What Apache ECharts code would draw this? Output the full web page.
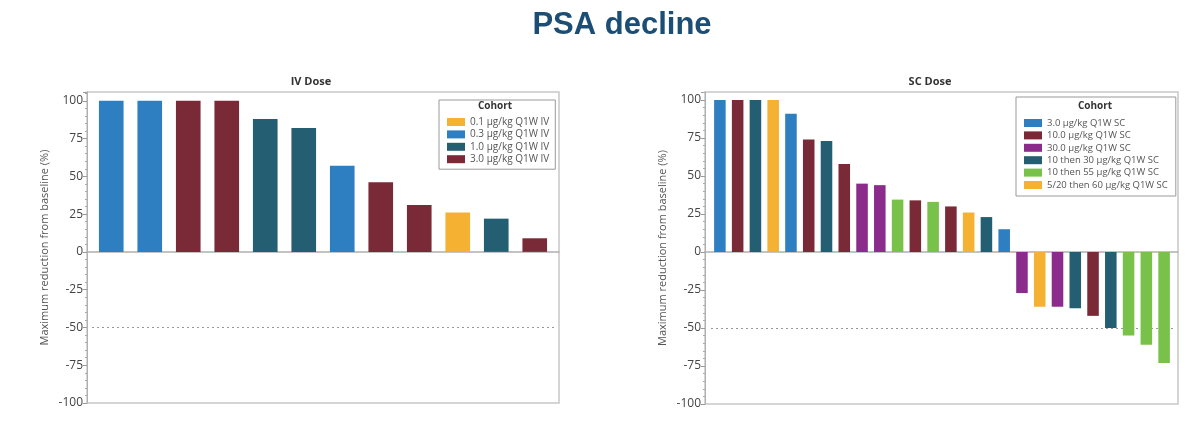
<!DOCTYPE html>
<html>
<head>
<meta charset="utf-8">
<script src="https://cdn.jsdelivr.net/npm/echarts@6/dist/echarts.min.js"></script>
<style>html,body{margin:0;padding:0;background:#fff;}#c{width:1200px;height:426px;}</style>
</head>
<body>
<div id="c"></div>
<script>
// ---- data ----
const ivCohortNames = ['0.1 μg/kg Q1W IV', '0.3 μg/kg Q1W IV', '1.0 μg/kg Q1W IV', '3.0 μg/kg Q1W IV'];
const ivColors = ['#F4B132', '#2E7FC2', '#245E72', '#7A2A37'];
const ivValues = [100, 100, 100, 100, 88, 82, 57, 46, 31, 26, 22, 9];
const ivCohort = [1, 1, 3, 3, 2, 2, 1, 3, 3, 0, 2, 3];

const scCohortNames = ['3.0 μg/kg Q1W SC', '10.0 μg/kg Q1W SC', '30.0 μg/kg Q1W SC', '10 then 30 μg/kg Q1W SC', '10 then 55 μg/kg Q1W SC', '5/20 then 60 μg/kg Q1W SC'];
const scColors = ['#2E7FC2', '#7A2A37', '#8B2C8C', '#245E72', '#78C24A', '#F4B132'];
const scValues = [100, 100, 100, 100, 91, 74, 73, 58, 45, 44, 34.5, 34, 33, 30, 26, 23, 15, -27, -36, -36, -37, -42, -50, -55, -61, -73];
const scCohort = [0, 1, 3, 5, 0, 1, 3, 1, 2, 2, 4, 1, 4, 1, 5, 3, 0, 2, 5, 2, 3, 1, 3, 4, 4, 4];

const yTicks = [-100, -75, -50, -25, 0, 25, 50, 75, 100];
const refLine = -50;

// ---- build ----
const chart = echarts.init(document.getElementById('c'));
const FONT = 'Open Sans';

function cats(n) { return Array.from({length: n}, (_, i) => String(i + 1)); }

function buildSeries(values, cohort, names, colors, xi, yi, bw, stack) {
  const s = names.map((nm, k) => ({
    type: 'bar', name: nm, stack: stack, xAxisIndex: xi, yAxisIndex: yi, z: 3,
    barWidth: bw, itemStyle: {color: colors[k]},
    data: values.map((v, i) => cohort[i] === k ? v : null)
  }));
  s.push({
    type: 'line', name: stack + '-ref', xAxisIndex: xi, yAxisIndex: yi, z: 1, data: [],
    markLine: {
      z: 1, silent: true, symbol: 'none', label: {show: false},
      lineStyle: {type: [2, 3], color: '#999', width: 1},
      data: [{yAxis: refLine}]
    }
  });
  return s;
}

function visY(gi, max) {
  return {
    type: 'value', gridIndex: gi, min: -100, max: max, interval: 25,
    name: 'Maximum reduction from baseline (%)', nameLocation: 'middle', nameGap: 37,
    nameTextStyle: {fontFamily: FONT, fontSize: 11, color: '#555'},
    axisLine: {show: true, lineStyle: {color: '#b0b0b0', width: 1}},
    axisTick: {show: true, length: 4, lineStyle: {color: '#999'}},
    minorTick: {show: true, splitNumber: 5, length: 2, lineStyle: {color: '#aaa'}},
    axisLabel: {fontFamily: FONT, fontSize: 12, color: '#444', margin: 4, showMaxLabel: false,
      formatter: v => yTicks.indexOf(v) >= 0 ? String(v) : ''},
    splitLine: {show: false}
  };
}
function hidY(gi, max) {
  return {type: 'value', gridIndex: gi, min: -100, max: max, interval: 25, show: false, splitLine: {show: false}};
}
function frameX(gi) {
  return {type: 'value', gridIndex: gi, min: 0, max: 1,
    axisLine: {show: true, onZero: true, lineStyle: {color: '#b0b0b0', width: 1.5}},
    axisTick: {show: false}, axisLabel: {show: false}, splitLine: {show: false}};
}
function barX(gi, n) {
  return {type: 'category', gridIndex: gi, data: cats(n), show: false};
}

const option = {
  backgroundColor: '#ffffff',
  animation: false,
  title: [
    {text: 'PSA decline', left: 622, top: 10, textAlign: 'center', padding: 0,
      textStyle: {fontFamily: 'Liberation Sans', fontSize: 31, fontWeight: 'bold', color: '#1b4d75'}},
    {text: 'IV Dose', left: 311, top: 76, textAlign: 'center', padding: 0,
      textStyle: {fontFamily: FONT, fontSize: 11, fontWeight: 'bold', color: '#333'}},
    {text: 'SC Dose', left: 930, top: 76, textAlign: 'center', padding: 0,
      textStyle: {fontFamily: FONT, fontSize: 11, fontWeight: 'bold', color: '#333'}},
    {text: 'Cohort', left: 495, top: 101, textAlign: 'center', padding: 0, z: 10,
      textStyle: {fontFamily: FONT, fontSize: 10, fontWeight: 'bold', color: '#333'}},
    {text: 'Cohort', left: 1095, top: 101, textAlign: 'center', padding: 0, z: 10,
      textStyle: {fontFamily: FONT, fontSize: 10, fontWeight: 'bold', color: '#333'}}
  ],
  legend: [
    {data: ivCohortNames, orient: 'vertical', left: 439, top: 100, padding: [17, 6, 5, 8],
      itemWidth: 18, itemHeight: 8, itemGap: 2.4, selectedMode: false, icon: 'rect',
      backgroundColor: '#fff', borderColor: '#999', borderWidth: 1,
      textStyle: {fontFamily: FONT, fontSize: 10, color: '#555', lineHeight: 10}},
    {data: scCohortNames, orient: 'vertical', left: 1016, top: 97, padding: [21, 8, 6, 8],
      itemWidth: 18, itemHeight: 8, itemGap: 2.4, selectedMode: false, icon: 'rect',
      backgroundColor: '#fff', borderColor: '#999', borderWidth: 1,
      textStyle: {fontFamily: FONT, fontSize: 9.5, color: '#555', lineHeight: 10}}
  ],
  grid: [
    {left: 87, top: 92, width: 472, height: 311, show: true, borderColor: '#c8c8c8', borderWidth: 1.5, backgroundColor: 'transparent'},
    {left: 92, top: 92, width: 462, height: 311},
    {left: 705, top: 92, width: 473, height: 312, show: true, borderColor: '#c8c8c8', borderWidth: 1.5, backgroundColor: 'transparent'},
    {left: 711, top: 92, width: 462, height: 312}
  ],
  xAxis: [frameX(0), barX(1, ivValues.length), frameX(2), barX(3, scValues.length)],
  yAxis: [visY(0, 105.8), hidY(1, 105.8), visY(2, 105.3), hidY(3, 105.3)],
  series: [].concat(
    buildSeries(ivValues, ivCohort, ivCohortNames, ivColors, 1, 1, '64%', 'iv'),
    buildSeries(scValues, scCohort, scCohortNames, scColors, 3, 3, '65%', 'sc')
  )
};
chart.setOption(option);
</script>
</body>
</html>
